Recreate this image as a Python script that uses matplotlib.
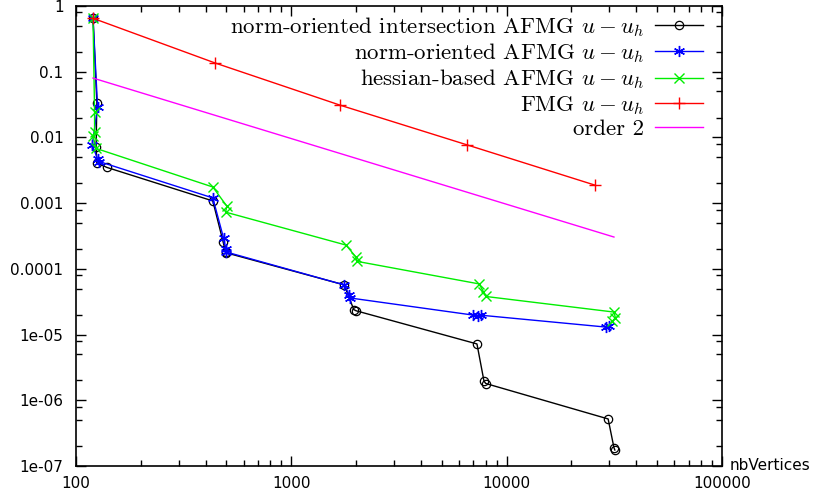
import matplotlib
matplotlib.use("Agg")
import matplotlib.pyplot as plt
from matplotlib.ticker import LogLocator, FuncFormatter, NullFormatter

plt.rcParams['mathtext.fontset'] = 'cm'

# norm-oriented intersection AFMG
inter_n = [120, 125, 124, 125, 139, 432, 482, 495, 500, 1760, 1950, 2000,
           7280, 7850, 8000, 29600, 31500, 31800]
inter_err = [0.65, 0.034, 0.0072, 0.0041, 0.0035, 0.00108, 0.00026, 0.00018,
             0.000175, 5.7e-5, 2.4e-5, 2.3e-5, 7.2e-6, 1.95e-6, 1.8e-6,
             5.2e-7, 1.9e-7, 1.75e-7]

# norm-oriented AFMG
norm_n = [120, 126, 119, 126, 128, 432, 485, 495, 500, 1760, 1860, 1880,
          6980, 7400, 7600, 28900, 30000]
norm_err = [0.65, 0.029, 0.0077, 0.0047, 0.0043, 0.0012, 0.00029, 0.0002,
            0.00018, 5.7e-5, 4.0e-5, 3.6e-5, 1.98e-5, 1.95e-5, 1.97e-5,
            1.3e-5, 1.35e-5]

# hessian-based AFMG
hess_n = [120, 122, 122, 120, 124, 432, 502, 495, 1795, 2000, 2020,
          7450, 7800, 8000, 31500, 32000, 31000]
hess_err = [0.65, 0.024, 0.012, 0.0105, 0.0068, 0.00176, 0.0009, 0.00073,
            0.00023, 0.00015, 0.00013, 5.9e-5, 4.5e-5, 3.8e-5, 2.2e-5,
            1.8e-5, 1.6e-5]

# FMG
fmg_n = [120, 442, 1683, 6550, 25700]
fmg_err = [0.65, 0.136, 0.031, 0.0077, 0.00188]

# order 2 reference line
ord_n = [120, 31500]
ord_err = [0.08, 0.000305]

x_ticks = [100, 1000, 10000, 100000]
y_ticks = [1e-7, 1e-6, 1e-5, 1e-4, 1e-3, 1e-2, 1e-1, 1]

fig = plt.figure(figsize=(8.17, 4.96), dpi=100)
ax = fig.add_axes([0.093, 0.0605, 0.7907, 0.9274])

lw = 1.0
ax.plot(inter_n, inter_err, color='black', lw=lw, marker='o', ms=6,
        mfc='none', mew=0.9, label=r'norm-oriented intersection AFMG $u-u_h$')
ax.plot(norm_n, norm_err, color='#0000ff', lw=lw, marker=(6, 2, 0), ms=8,
        mew=1.0, label=r'norm-oriented AFMG $u-u_h$')
ax.plot(hess_n, hess_err, color='#00ee00', lw=lw, marker='x', ms=7,
        mew=1.0, label=r'hessian-based AFMG $u-u_h$')
ax.plot(fmg_n, fmg_err, color='#ff0000', lw=lw, marker='+', ms=8,
        mew=1.0, label=r'FMG $u-u_h$')
ax.plot(ord_n, ord_err, color='#ff00ff', lw=lw, label='order 2')

ax.set_xscale('log')
ax.set_yscale('log')
ax.set_xlim(100, 100000)
ax.set_ylim(1e-7, 1)
ax.set_xticks(x_ticks)
ax.set_yticks(y_ticks)

fmt = FuncFormatter(lambda v, p: '%g' % v)
ax.xaxis.set_major_formatter(fmt)
ax.yaxis.set_major_formatter(fmt)
ax.xaxis.set_minor_locator(LogLocator(base=10, subs=range(2, 10)))
ax.yaxis.set_minor_locator(LogLocator(base=10, subs=[2, 5, 8]))
ax.xaxis.set_minor_formatter(NullFormatter())
ax.yaxis.set_minor_formatter(NullFormatter())
ax.tick_params(which='both', direction='in', top=True, right=True,
               labelsize=11)
ax.tick_params(axis='y', which='major', pad=9)
ax.tick_params(axis='x', which='major', pad=7)
ax.tick_params(which='major', length=7, width=1)
ax.tick_params(which='minor', length=4, width=1)
for s in ax.spines.values():
    s.set_linewidth(1.2)

ax.text(1.012, 0.0, 'nbVertices', transform=ax.transAxes, ha='left',
        va='center', fontsize=11)

leg = ax.legend(loc='upper right', frameon=False, markerfirst=False,
                prop={'family': 'cmr10', 'size': 16.5}, handlelength=2.1,
                labelspacing=0.11, handletextpad=0.45, borderpad=0.0,
                bbox_to_anchor=(0.988, 1.006))

fig.savefig('out.png', dpi=100, facecolor='white')
